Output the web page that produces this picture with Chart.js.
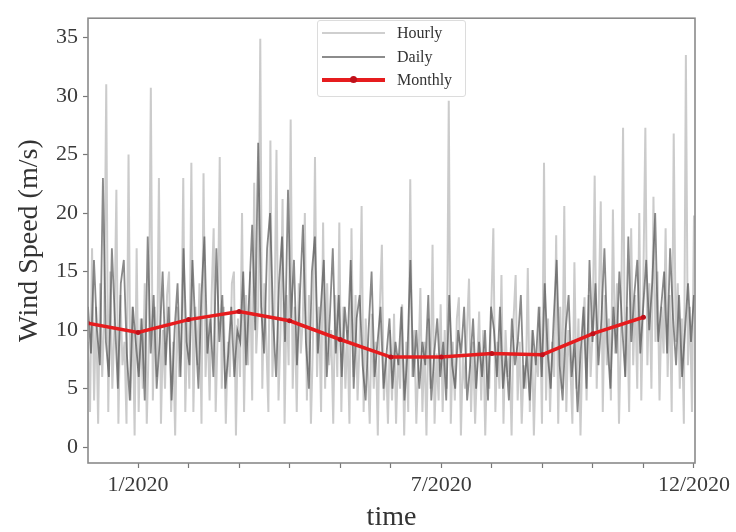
<!DOCTYPE html>
<html lang="en">
<head>
<meta charset="utf-8">
<title>Wind Speed</title>
<script src="https://cdn.jsdelivr.net/npm/chart.js"></script>
<style>
  body { margin: 0; background: #fff; }
  .tela { position: relative; width: 736px; height: 532px; }
  .legenda {
    position: absolute; left: 317px; top: 20px; width: 147px; height: 75px;
    border: 1px solid #dcdcdc; border-radius: 3px; background: rgba(255,255,255,0.85);
    font-family: 'Liberation Serif', serif; font-size: 16px; color: #333;
  }
  .item { position: absolute; left: 4px; height: 20px; display: flex; align-items: center; }
  .amostra { width: 63px; margin-right: 12px; position: relative; }
  .ponto { position: absolute; left: 28px; top: -2px; width: 7px; height: 7px; border-radius: 50%; background: #c0101a; }
</style>
</head>
<body>
<div class="tela">
  <canvas id="vento" width="736" height="532"></canvas>
  <div class="legenda" id="legenda"></div>
</div>

<script>
  // hourly values, 25 per month, from 12/2019 to 11/2020
  const hourly = [
    9, 3, 17, 4, 12, 2, 14, 6, 11, 31, 3, 15, 5, 10, 22, 2, 13, 7, 9, 2, 25, 4, 12, 1, 17,
    3, 11, 5, 14, 2, 9, 30.7, 4, 12, 6, 23, 2, 10, 5, 13, 15, 3, 9, 1, 12, 6, 8, 23, 3, 11,
    5, 24.3, 3, 12, 7, 14, 2, 23.4, 6, 11, 4, 13, 18.7, 3, 10, 24.8, 5, 12, 2, 9, 6, 14, 15, 1, 11,
    6, 20, 3, 13, 7, 15, 4, 22.6, 8, 12, 34.9, 5, 14, 9, 3, 26.2, 6, 11, 25.4, 4, 10, 21.2, 2, 13, 7,
    28, 5, 12, 3, 14, 8, 11, 20, 4, 13, 2, 9, 24.8, 6, 12, 3, 19.2, 5, 14, 7, 10, 2, 13, 6, 19.2,
    3, 12, 5, 10, 2, 18.7, 6, 13, 4, 9, 20.6, 3, 11, 7, 2, 11.4, 5, 9, 1, 12, 17.3, 4, 8, 2, 10,
    4, 11.4, 2, 8, 5, 12.2, 1, 9, 3, 22.9, 6, 10, 2, 7, 13.6, 3, 9, 1, 11, 5, 17.3, 2, 8, 4, 12.2,
    3, 10, 5, 29.6, 2, 9, 4, 11, 12.8, 1, 8, 5, 10, 14.4, 3, 9, 2, 7, 11.6, 4, 10, 1, 8, 5, 12,
    18.7, 3, 9, 5, 14.7, 2, 10, 6, 8, 1, 11, 14.7, 4, 9, 2, 7, 5, 15.3, 3, 10, 1, 8, 6, 12, 2,
    24.3, 4, 11, 3, 9, 6, 18.1, 2, 12, 5, 20.6, 3, 10, 7, 2, 15.8, 5, 11, 1, 9, 12.8, 4, 13, 6, 10,
    23.2, 5, 12, 21, 3, 13, 7, 11, 4, 20.3, 8, 14, 2, 10, 27.3, 6, 12, 3, 18.7, 7, 13, 5, 20, 4, 14,
    27.3, 7, 14, 5, 21.4, 9, 15, 4, 12, 8, 18.7, 6, 13, 3, 26.8, 9, 14, 5, 11, 2, 33.5, 7, 12, 3, 19.8
  ];

  // daily values, 17 per month
  const daily = [
    12, 8, 16, 10, 7, 23, 9, 6, 17, 11, 5, 14, 16, 8, 4, 12, 9,
    6, 11, 4, 18, 8, 13, 5, 9, 15, 7, 12, 4, 10, 14, 6, 17, 9,
    7, 16, 10, 5, 13, 18, 8, 11, 6, 17, 9, 13, 5, 8, 12, 6, 10,
    9, 15, 7, 13, 19, 10, 26, 12, 8, 17, 20, 11, 6, 14, 18, 9, 22,
    11, 16, 7, 13, 19, 9, 5, 15, 18, 8, 12, 16, 6, 11, 17, 8, 13,
    6, 12, 9, 16, 5, 11, 13, 7, 4, 10, 15, 6, 9, 12, 5, 8, 11,
    5, 9, 7, 12, 4, 8, 16, 6, 10, 5, 9, 7, 13, 4, 8, 11, 6,
    9, 4, 13, 7, 5, 10, 8, 12, 4, 7, 11, 5, 9, 6, 10, 4, 12,
    10, 6, 12, 5, 8, 4, 11, 7, 9, 13, 5, 8, 4, 10, 7, 12, 6,
    14, 8, 5, 11, 16, 7, 4, 10, 13, 6, 9, 3, 8, 12, 5, 16, 9,
    14, 7, 11, 17, 9, 5, 12, 8, 15, 10, 6, 18, 9, 13, 16, 8, 12,
    16, 10, 14, 20, 9, 12, 15, 8, 17, 11, 7, 13, 6, 10, 14, 9, 13
  ];

  // monthly means, months counted from 1/2020 (= 0)
  const monthlyMonths = [-1, 0, 1, 2, 3, 4, 5, 6, 7, 8, 9, 10];
  const monthly = [10.6, 9.8, 10.9, 11.6, 10.8, 9.2, 7.7, 7.7, 8.0, 7.9, 9.7, 11.1];

  // time span of the hourly/daily records, in months from 1/2020
  const inicio = -0.99;
  const fim = 11.0;

  const tickMonths = [0, 1, 2, 3, 4, 5, 6, 7, 8, 9, 10, 11];
  const tickLabels = ['1/2020', '', '', '', '', '', '7/2020', '', '', '', '', '12/2020'];
  const yTicks = [0, 5, 10, 15, 20, 25, 30, 35];

  function pontos(valores) {
    let passo = (fim - inicio) / (valores.length - 1);
    return valores.map(function (v, i) { return { x: inicio + i * passo, y: v }; });
  }

  const fonte = 'Liberation Serif, serif';

  // moldura completa em volta da area do grafico
  const moldura = {
    id: 'moldura',
    afterDraw(chart) {
      const { ctx, chartArea: a } = chart;
      ctx.save();
      ctx.strokeStyle = '#8a8a8a';
      ctx.lineWidth = 1.6;
      ctx.strokeRect(a.left, a.top, a.right - a.left, a.bottom - a.top);
      ctx.restore();
    }
  };

  const config = {
    type: 'line',
    data: {
      datasets: [
        {
          label: 'Hourly',
          data: pontos(hourly),
          borderColor: 'rgba(140,140,140,0.45)',
          borderWidth: 2,
          pointRadius: 0,
          order: 3
        },
        {
          label: 'Daily',
          data: pontos(daily),
          borderColor: 'rgba(60,60,60,0.6)',
          borderWidth: 1.8,
          pointRadius: 0,
          order: 2
        },
        {
          label: 'Monthly',
          data: monthlyMonths.map(function (m, i) { return { x: m, y: monthly[i] }; }),
          borderColor: 'rgb(230,28,30)',
          borderWidth: 3.5,
          pointRadius: 2.5,
          pointBackgroundColor: '#c0101a',
          pointBorderWidth: 0,
          order: 1
        }
      ]
    },
    options: {
      responsive: false,
      animation: false,
      devicePixelRatio: 1,
      layout: { padding: { left: 0, top: 12, right: 41, bottom: 0 } },
      plugins: { legend: { display: false }, tooltip: { enabled: false } },
      scales: {
        x: {
          type: 'linear',
          min: inicio,
          max: 11.02,
          afterBuildTicks: function (s) { s.ticks = tickMonths.map(function (v) { return { value: v }; }); },
          afterFit: function (s) { s.height = 69; },
          border: { display: false },
          grid: { drawOnChartArea: false, tickLength: 5, tickColor: '#777', tickWidth: 1.2 },
          ticks: {
            maxRotation: 0,
            autoSkip: false,
            padding: 4,
            color: '#3a3a3a',
            font: { family: fonte, size: 22 },
            callback: function (v, i) { return tickLabels[i]; }
          },
          title: {
            display: true,
            text: 'time',
            color: '#333',
            font: { family: fonte, size: 28, lineHeight: 1 },
            padding: { top: 0, bottom: 0 }
          }
        },
        y: {
          min: -1.35,
          max: 36.65,
          afterBuildTicks: function (s) { s.ticks = yTicks.map(function (v) { return { value: v }; }); },
          afterFit: function (s) { s.width = 88; },
          border: { display: false },
          grid: { drawOnChartArea: false, tickLength: 5, tickColor: '#777', tickWidth: 1.2 },
          ticks: {
            padding: 5,
            color: '#3a3a3a',
            font: { family: fonte, size: 22 }
          },
          title: {
            display: true,
            text: 'Wind Speed (m/s)',
            color: '#333',
            font: { family: fonte, size: 28 },
            padding: { top: 13, bottom: 0 }
          }
        }
      }
    },
    plugins: [moldura]
  };

  let grafico = new Chart(document.getElementById('vento'), config);

  // legenda em html, dentro da area do grafico
  let legenda = document.getElementById('legenda');
  let topos = [2, 26, 49];
  grafico.data.datasets.forEach(function (d, i) {
    let item = document.createElement('div');
    item.className = 'item';
    item.style.top = topos[i] + 'px';
    let amostra = document.createElement('div');
    amostra.className = 'amostra';
    amostra.style.height = (i == 2 ? 3.5 : 1.5) + 'px';
    amostra.style.background = i == 0 ? '#cfcfcf' : (i == 1 ? '#8c8c8c' : 'rgb(230,28,30)');
    if (i == 2) {
      let ponto = document.createElement('span');
      ponto.className = 'ponto';
      amostra.appendChild(ponto);
    }
    let texto = document.createElement('span');
    texto.textContent = d.label;
    item.appendChild(amostra);
    item.appendChild(texto);
    legenda.appendChild(item);
  });
</script>
</body>
</html>
